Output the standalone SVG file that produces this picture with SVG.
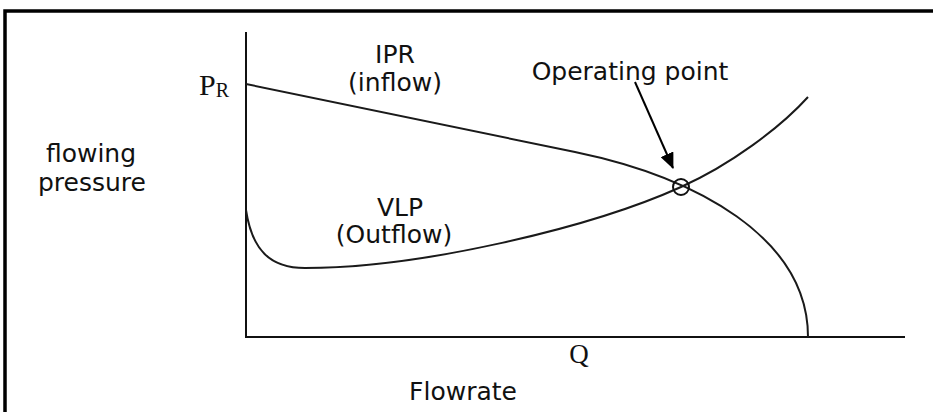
<svg xmlns="http://www.w3.org/2000/svg" width="933" height="412" viewBox="0 0 933 412">
  <style>
    .sans { font-family: "DejaVu Sans", Verdana, sans-serif; font-size: 25px; fill: #111; }
    .serif { font-family: "Liberation Serif", "Times New Roman", serif; fill: #111; }
    .axis { stroke: #111; stroke-width: 2; fill: none; }
    .curve { stroke: #1a1a1a; stroke-width: 2; fill: none; }
    .frame { stroke: #000; stroke-width: 3.5; fill: none; }
  </style>
  <defs>
    <marker id="arrowhead" viewBox="0 0 16 14" refX="15" refY="7" markerWidth="16" markerHeight="14" markerUnits="userSpaceOnUse" orient="auto">
      <path d="M0,0 L16,7 L0,14 Z" fill="#000"/>
    </marker>
  </defs>
  <rect width="933" height="412" fill="#fff"/>
  <g id="frame">
    <path class="frame" d="M5,412 L5,11 L933,11"/>
  </g>
  <g id="axes">
    <line class="axis" x1="246" y1="32" x2="246" y2="337"/>
    <line class="axis" x1="245" y1="337" x2="905" y2="337"/>
  </g>
  <g id="connectors">
    <path id="ipr-curve" class="curve" d="M246,84 L575,152 C695,176.8 808,237 808,337"/>
    <path id="vlp-curve" class="curve" d="M246,210 C252,250 270,268 305,268 C420,268 590,228 681,187 C730,165 780,128 808,97"/>
    <line id="op-arrow" x1="635" y1="82" x2="673" y2="168" stroke="#000" stroke-width="2" marker-end="url(#arrowhead)"/>
  </g>
  <g id="operating-point">
    <circle cx="681" cy="187" r="8" fill="none" stroke="#111" stroke-width="2"/>
    <text class="sans" x="630" y="80" text-anchor="middle">Operating point</text>
  </g>
  <g id="ipr-label">
    <text class="sans" x="395" y="63" text-anchor="middle">IPR</text>
    <text class="sans" x="395" y="91" text-anchor="middle">(inflow)</text>
  </g>
  <g id="vlp-label">
    <text class="sans" x="400" y="216" text-anchor="middle">VLP</text>
    <text class="sans" x="394" y="243" text-anchor="middle">(Outflow)</text>
  </g>
  <g id="y-label">
    <text class="sans" x="91" y="162" text-anchor="middle">flowing</text>
    <text class="sans" x="92" y="191" text-anchor="middle">pressure</text>
  </g>
  <g id="x-label">
    <text class="sans" x="463" y="400" text-anchor="middle">Flowrate</text>
  </g>
  <g id="pr-label">
    <text class="serif" x="199" y="95" font-size="30">P<tspan font-size="20" dy="2">R</tspan></text>
  </g>
  <g id="q-label">
    <text class="serif" x="579" y="363" font-size="27" text-anchor="middle">Q</text>
  </g>
</svg>
